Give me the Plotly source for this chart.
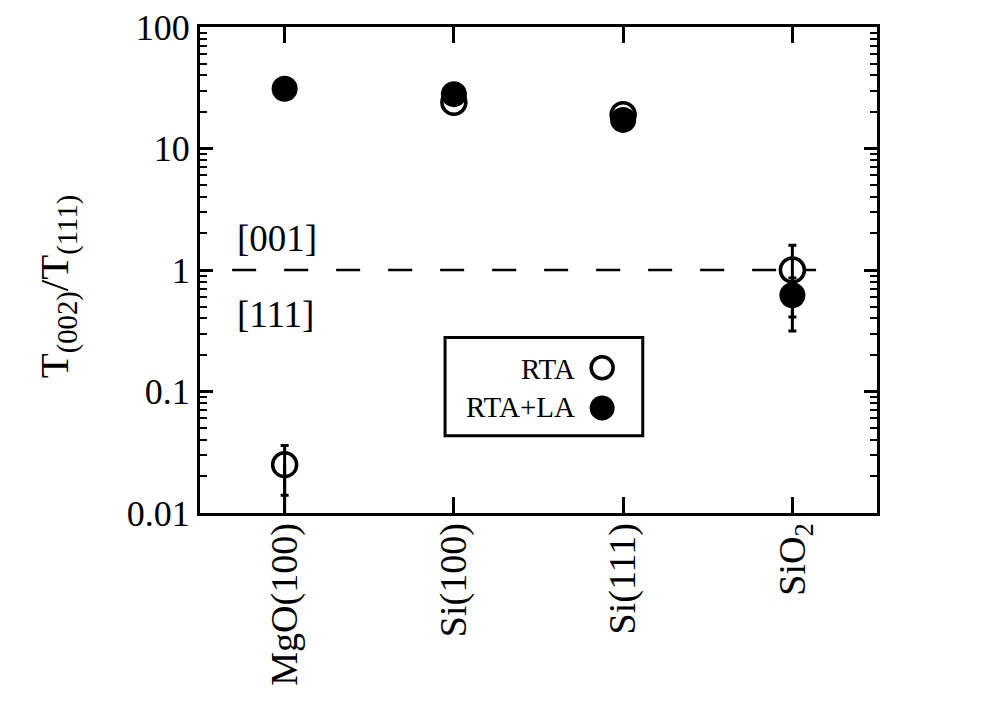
import plotly.graph_objects as go

# substrates on the x axis
substrates = ["MgO(100)", "Si(100)", "Si(111)", "SiO<sub>2</sub>"]
xpos = [0, 1, 2, 3]

# T(002)/T(111) ratio, RTA only (open symbols)
rta = [0.025, 24.0, 19.0, 1.0]
rta_err_plus = [0.011, 0, 0, 0.6]
rta_err_minus = [0.011, 0, 0, 0.59]

# RTA + laser anneal (filled symbols)
rta_la = [31.0, 28.0, 17.2, 0.62]
rta_la_err_plus = [0, 0, 0, 0.24]
rta_la_err_minus = [0, 0, 0, 0.305]

# MgO open point: lower bar runs off the bottom of the axis
mgo_tail_low = 0.008

FONT = "Liberation Serif, Times New Roman, Times, serif"
BLACK = "black"

fig = go.Figure()

fig.add_trace(go.Scatter(
    x=xpos, y=rta, mode="markers", showlegend=False,
    marker=dict(symbol="circle-open", size=24, color=BLACK, line=dict(width=3.5, color=BLACK)),
    error_y=dict(type="data", symmetric=False, array=rta_err_plus, arrayminus=rta_err_minus,
                 color=BLACK, thickness=3, width=4),
))
fig.add_trace(go.Scatter(
    x=xpos[:1], y=rta[:1], mode="markers", showlegend=False,
    marker=dict(size=1, opacity=0),
    error_y=dict(type="data", symmetric=False, array=[0], arrayminus=[rta[0] - mgo_tail_low],
                 color=BLACK, thickness=3, width=0),
))
fig.add_trace(go.Scatter(
    x=xpos, y=rta_la, mode="markers", showlegend=False,
    marker=dict(symbol="circle", size=26, color=BLACK, line=dict(width=0)),
    error_y=dict(type="data", symmetric=False, array=rta_la_err_plus, arrayminus=rta_la_err_minus,
                 color=BLACK, thickness=3, width=4),
))

# legend samples on an overlay axis spanning the plot area (0..1)
fig.add_trace(go.Scatter(
    x=[0.594], y=[0.299], xaxis="x2", yaxis="y2", mode="markers", showlegend=False,
    marker=dict(symbol="circle-open", size=22, color=BLACK, line=dict(width=3.5, color=BLACK)),
))
fig.add_trace(go.Scatter(
    x=[0.594], y=[0.216], xaxis="x2", yaxis="y2", mode="markers", showlegend=False,
    marker=dict(symbol="circle", size=25, color=BLACK),
))

# dashed line at ratio = 1
fig.add_shape(type="line", xref="x", yref="y", x0=-0.31, x1=3.14, y0=1, y1=1,
              line=dict(color=BLACK, width=2.5, dash="24px,28px"))

# legend box
fig.add_shape(type="rect", xref="paper", yref="paper", x0=0.362, x1=0.654, y0=0.159, y1=0.361,
              line=dict(color=BLACK, width=3), fillcolor="rgba(0,0,0,0)")

fig.add_annotation(text="RTA", xref="paper", yref="paper", x=0.557, y=0.297,
                   xanchor="right", yanchor="middle", showarrow=False,
                   font=dict(family=FONT, size=29, color=BLACK))
fig.add_annotation(text="RTA+LA", xref="paper", yref="paper", x=0.557, y=0.219,
                   xanchor="right", yanchor="middle", showarrow=False,
                   font=dict(family=FONT, size=29, color=BLACK))

fig.add_annotation(text="[001]", xref="paper", yref="paper", x=0.052, y=0.565,
                   xanchor="left", yanchor="middle", showarrow=False,
                   font=dict(family=FONT, size=37, color=BLACK))
fig.add_annotation(text="[111]", xref="paper", yref="paper", x=0.052, y=0.408,
                   xanchor="left", yanchor="middle", showarrow=False,
                   font=dict(family=FONT, size=37, color=BLACK))

fig.add_annotation(text="T<sub>(002)</sub>/T<sub>(111)</sub>", xref="paper", yref="paper",
                   x=-0.21, y=0.466, textangle=-90, xanchor="center", yanchor="middle",
                   showarrow=False, font=dict(family=FONT, size=41, color=BLACK))

minor_vals = [m * 10 ** e for e in range(-2, 2) for m in range(2, 10)]

# the page body adds an 8px margin, so the figure is 8px smaller than the window
fig.update_layout(
    width=1000, height=696,
    margin=dict(l=192, r=131, t=19, b=191),
    paper_bgcolor="white", plot_bgcolor="white",
    font=dict(family=FONT, size=35, color=BLACK),
    xaxis=dict(
        range=[-0.5, 3.5], tickmode="array", tickvals=xpos, ticktext=substrates,
        tickangle=-90, ticks="inside", ticklen=16, tickwidth=3, tickcolor=BLACK,
        showline=True, linewidth=3, linecolor=BLACK, mirror="ticks",
        showgrid=False, zeroline=False, tickfont=dict(family=FONT, size=38),
        ticklabelstandoff=-8, automargin=False,
    ),
    yaxis=dict(
        type="log", range=[-2, 2], tickmode="array",
        tickvals=[0.01, 0.1, 1, 10, 100], ticktext=["0.01", "0.1", "1", "10", "100"],
        ticks="inside", ticklen=13, tickwidth=3, tickcolor=BLACK,
        minor=dict(tickmode="array", tickvals=minor_vals, ticks="inside",
                   ticklen=7, tickwidth=2, tickcolor=BLACK, showgrid=False),
        showline=True, linewidth=3, linecolor=BLACK, mirror="ticks",
        showgrid=False, zeroline=False, tickfont=dict(family=FONT, size=36),
        ticklabelstandoff=0, ticklabeloverflow="allow", automargin=False,
    ),
    xaxis2=dict(overlaying="x", range=[0, 1], visible=False, fixedrange=True),
    yaxis2=dict(overlaying="y", range=[0, 1], visible=False, fixedrange=True),
)

fig.write_html("out.html")
